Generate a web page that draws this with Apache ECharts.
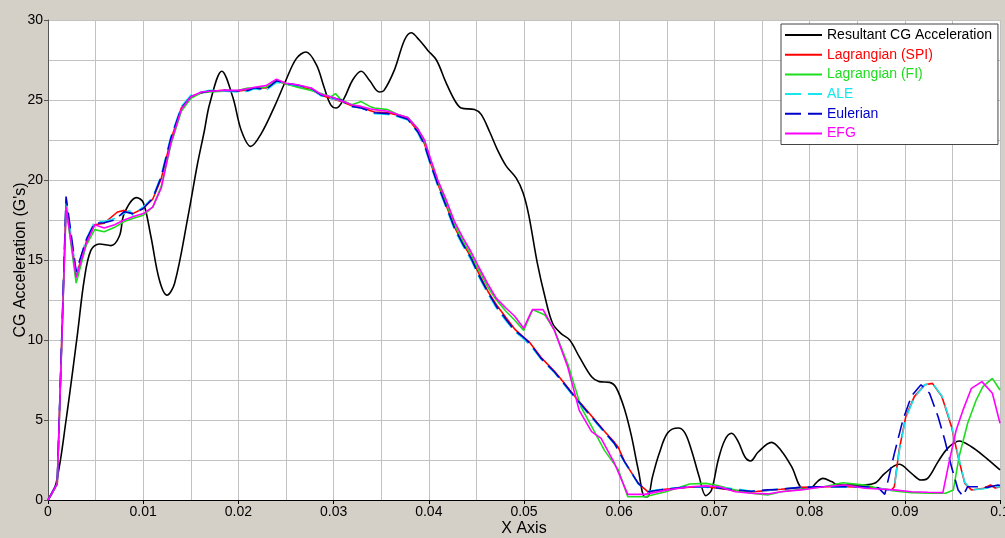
<!DOCTYPE html>
<html><head><meta charset="utf-8">
<script src="https://cdn.jsdelivr.net/npm/echarts@6/dist/echarts.min.js"></script>
<style>html,body{margin:0;padding:0;background:#d4d0c8}#c{width:1005px;height:538px}</style>
</head><body><div id="c"></div><script>
const seriesNames = ['Resultant CG Acceleration','Lagrangian (SPI)','Lagrangian (FI)','ALE','Eulerian','EFG'];
const seriesColors = ['#000000','#ff0000','#1edc1e','#16e6ee','#0000cc','#ff00ff'];

const resultantCG = [[0,0],[0.00086,1.06],[0.0019,5.0],[0.0031,10.4],[0.0038,13.75],[0.0045,15.6],[0.0054,16.0],[0.0066,15.9],[0.0075,16.5],[0.008,17.9],[0.0093,18.9],[0.01,18.6],[0.0108,16.5],[0.0117,13.75],[0.0125,12.8],[0.0133,13.55],[0.0147,17.7],[0.0157,21.0],[0.0164,23.0],[0.017,24.8],[0.01826,26.8],[0.0194,25.2],[0.0203,23.1],[0.0213,22.1],[0.0224,22.9],[0.0238,24.6],[0.025,26.25],[0.0261,27.6],[0.0271,28.0],[0.0282,27.2],[0.029,25.8],[0.0297,24.7],[0.0303,24.5],[0.0311,25.1],[0.032,26.25],[0.0329,26.8],[0.0338,26.2],[0.0348,25.5],[0.0353,25.6],[0.0364,26.9],[0.03745,28.75],[0.03815,29.2],[0.039,28.75],[0.0399,28.1],[0.0408,27.5],[0.0418,26.1],[0.0427,25.0],[0.0434,24.5],[0.0448,24.4],[0.0455,24.1],[0.0464,23.0],[0.0472,21.9],[0.0481,20.9],[0.0492,20.1],[0.0499,19.2],[0.0505,17.8],[0.0514,14.8],[0.0522,12.7],[0.053,11.05],[0.0539,10.4],[0.0548,10.0],[0.0558,8.96],[0.0571,7.7],[0.0579,7.4],[0.059,7.35],[0.0597,7.0],[0.0606,5.6],[0.0613,3.96],[0.062,1.9],[0.0627,0.2],[0.063,0.2],[0.0635,1.46],[0.0642,2.9],[0.0651,4.2],[0.0662,4.5],[0.0669,4.2],[0.0676,3.1],[0.0684,1.46],[0.0691,0.27],[0.0697,0.63],[0.0704,2.5],[0.0711,3.75],[0.0718,4.17],[0.0725,3.65],[0.0732,2.7],[0.0738,2.44],[0.0746,3.0],[0.076,3.6],[0.077,3.1],[0.0781,2.1],[0.0793,0.73],[0.08,0.73],[0.0809,1.2],[0.0814,1.35],[0.0823,1.15],[0.083,0.94],[0.084,0.94],[0.0854,0.94],[0.0868,1.04],[0.0879,1.67],[0.0894,2.23],[0.0907,1.67],[0.0917,1.25],[0.0924,1.35],[0.0935,2.4],[0.0945,3.23],[0.0957,3.69],[0.097,3.33],[0.0984,2.7],[0.1,1.88]];

const lagrangianSPI = [[0,0],[0.00097,1.04],[0.0019,18.6],[0.00296,14.0],[0.004,16.1],[0.0049,17.2],[0.0059,17.3],[0.0073,18.0],[0.008,18.1],[0.0089,17.9],[0.00996,18.2],[0.011,18.8],[0.0119,20.1],[0.0129,22.5],[0.014,24.5],[0.015,25.2],[0.0161,25.45],[0.017,25.55],[0.01854,25.6],[0.01994,25.55],[0.021,25.65],[0.0217,25.75],[0.0229,25.75],[0.024,26.2],[0.025,26.0],[0.0262,25.85],[0.02765,25.65],[0.0287,25.3],[0.02975,25.1],[0.0308,24.9],[0.03185,24.65],[0.0329,24.55],[0.0338,24.35],[0.0343,24.25],[0.0357,24.2],[0.03675,24.05],[0.0378,23.85],[0.03885,23.05],[0.03955,22.25],[0.04025,20.95],[0.04095,19.75],[0.0418,18.45],[0.0427,17.05],[0.04357,16.05],[0.04445,15.15],[0.0453,14.1],[0.0462,13.05],[0.0471,12.2],[0.0481,11.4],[0.049,10.7],[0.0499,10.2],[0.0506,9.85],[0.0518,8.9],[0.0532,8.05],[0.0539,7.55],[0.0553,6.5],[0.0571,5.25],[0.05845,4.3],[0.0595,3.6],[0.0599,3.3],[0.06056,2.4],[0.062,1.04],[0.063,0.52],[0.0648,0.67],[0.0674,0.8],[0.0691,0.83],[0.0722,0.6],[0.0739,0.5],[0.0756,0.6],[0.077,0.67],[0.0791,0.79],[0.081,0.83],[0.0837,0.83],[0.0858,0.8],[0.0872,0.73],[0.0886,0.63],[0.0889,0.83],[0.0894,3.1],[0.0901,5.2],[0.091,6.46],[0.0921,7.2],[0.0929,7.29],[0.0939,6.46],[0.0949,4.6],[0.0956,2.7],[0.0963,1.04],[0.097,0.63],[0.0983,0.73],[0.099,0.94],[0.0995,0.75],[0.1,0.83]];

const lagrangianFI = [[0,0],[0.00097,1.0],[0.0019,18.3],[0.00296,13.56],[0.004,15.9],[0.0049,16.9],[0.0059,16.77],[0.007,17.04],[0.008,17.4],[0.0089,17.6],[0.01,17.8],[0.011,18.3],[0.0119,19.6],[0.0129,22.2],[0.014,24.3],[0.015,25.1],[0.0161,25.45],[0.017,25.5],[0.0185,25.55],[0.02,25.6],[0.021,25.75],[0.0217,25.7],[0.0229,25.8],[0.024,26.2],[0.025,26.0],[0.0262,25.8],[0.02765,25.6],[0.0287,25.4],[0.0297,25.2],[0.0302,25.4],[0.0308,25.0],[0.0319,24.7],[0.0329,24.9],[0.0338,24.6],[0.0343,24.5],[0.0357,24.4],[0.03675,24.1],[0.0378,23.9],[0.03885,23.2],[0.03955,22.4],[0.04025,21.1],[0.04095,19.9],[0.0418,18.6],[0.0427,17.2],[0.04357,16.2],[0.04445,15.3],[0.0453,14.3],[0.0462,13.3],[0.0471,12.5],[0.0481,11.8],[0.049,11.25],[0.04997,10.6],[0.0509,11.9],[0.0522,11.56],[0.0532,10.6],[0.0546,8.5],[0.056,5.8],[0.0571,4.6],[0.05845,3.1],[0.0599,1.9],[0.0609,0.2],[0.0627,0.2],[0.0648,0.5],[0.0674,1.0],[0.0691,1.04],[0.0701,0.94],[0.0722,0.63],[0.0739,0.42],[0.0756,0.31],[0.077,0.52],[0.0791,0.67],[0.0815,0.83],[0.0835,1.08],[0.0858,0.94],[0.0868,0.79],[0.0889,0.56],[0.0907,0.46],[0.0928,0.42],[0.0943,0.42],[0.0951,0.63],[0.0957,2.7],[0.0966,4.8],[0.0975,6.25],[0.0982,7.08],[0.0992,7.6],[0.1,6.875]];

const ale = [[0,0],[0.00097,1.04],[0.0019,18.8],[0.00296,14.2],[0.004,16.3],[0.0049,17.4],[0.0059,17.4],[0.007,17.6],[0.008,17.9],[0.00856,18.1],[0.0089,17.8],[0.00996,18.3],[0.011,18.9],[0.0119,20.3],[0.0129,22.7],[0.014,24.6],[0.015,25.3],[0.0161,25.5],[0.017,25.6],[0.01854,25.55],[0.01994,25.5],[0.021,25.55],[0.0217,25.7],[0.0229,25.6],[0.024,26.1],[0.025,26.0],[0.0262,25.9],[0.02765,25.7],[0.0287,25.25],[0.02975,25.1],[0.0308,24.95],[0.03185,24.6],[0.0329,24.5],[0.0338,24.3],[0.0343,24.15],[0.0357,24.1],[0.03675,23.95],[0.0378,23.75],[0.03885,22.95],[0.03955,22.1],[0.04025,20.8],[0.04095,19.6],[0.0418,18.3],[0.0427,16.9],[0.04357,15.9],[0.04445,15.0],[0.0453,13.9],[0.0462,12.9],[0.0471,12.0],[0.0481,11.2],[0.049,10.55],[0.0499,10.1],[0.0506,9.7],[0.0518,8.8],[0.0532,7.95],[0.0539,7.45],[0.0553,6.4],[0.0571,5.15],[0.05845,4.2],[0.0595,3.5],[0.06056,2.35],[0.062,1.0],[0.063,0.55],[0.0648,0.7],[0.0674,0.83],[0.0691,0.8],[0.0722,0.7],[0.0739,0.55],[0.0756,0.6],[0.077,0.7],[0.0791,0.8],[0.081,0.83],[0.0837,0.8],[0.0858,0.8],[0.0872,0.73],[0.0886,0.6],[0.0889,0.8],[0.0894,3.0],[0.0901,5.1],[0.091,6.4],[0.0921,7.2],[0.0929,7.3],[0.0939,6.5],[0.0949,4.7],[0.0956,2.8],[0.0963,1.1],[0.097,0.63],[0.0983,0.7],[0.099,0.8],[0.1,0.83]];

const eulerian = [[0,0],[0.00097,1.04],[0.0019,18.96],[0.00296,14.27],[0.004,16.25],[0.0049,17.3],[0.0059,17.33],[0.007,17.5],[0.008,18.02],[0.0089,17.9],[0.00996,18.2],[0.011,18.85],[0.0119,20.2],[0.0129,22.6],[0.014,24.5],[0.015,25.2],[0.0161,25.46],[0.017,25.56],[0.01854,25.6],[0.01994,25.56],[0.021,25.6],[0.0217,25.77],[0.0229,25.65],[0.024,26.2],[0.025,26.04],[0.0262,25.94],[0.02765,25.73],[0.0287,25.3],[0.02975,25.17],[0.0308,25.0],[0.03185,24.6],[0.0329,24.5],[0.0338,24.3],[0.0343,24.2],[0.0357,24.15],[0.03675,24.0],[0.0378,23.8],[0.03885,23.0],[0.03955,22.2],[0.04025,20.9],[0.04095,19.7],[0.0418,18.4],[0.0427,17.0],[0.04357,16.0],[0.04445,15.1],[0.0453,14.0],[0.0462,13.0],[0.0471,12.1],[0.0481,11.3],[0.049,10.6],[0.0499,10.2],[0.0506,9.8],[0.0518,8.85],[0.0532,8.0],[0.0539,7.5],[0.0553,6.46],[0.0571,5.2],[0.05845,4.27],[0.0595,3.54],[0.06056,2.4],[0.062,1.04],[0.063,0.52],[0.0648,0.67],[0.0674,0.83],[0.0691,0.83],[0.0722,0.63],[0.0739,0.55],[0.0756,0.63],[0.077,0.67],[0.0791,0.79],[0.081,0.83],[0.0837,0.83],[0.0858,0.83],[0.0872,0.77],[0.0879,0.35],[0.0889,2.9],[0.0898,5.0],[0.0907,6.5],[0.0917,7.2],[0.0926,6.67],[0.0935,5.2],[0.0942,3.75],[0.0949,2.08],[0.0956,0.63],[0.0961,0.25],[0.0966,0.83],[0.0977,0.83],[0.0987,0.79],[0.0998,0.94],[0.1,0.9]];

const efg = [[0,0],[0.00097,1.0],[0.0019,18.3],[0.00296,13.9],[0.004,16.0],[0.0049,17.2],[0.0059,17.0],[0.007,17.2],[0.008,17.5],[0.0089,17.7],[0.01,17.9],[0.011,18.3],[0.0119,19.5],[0.0129,22.3],[0.014,24.4],[0.015,25.2],[0.0161,25.5],[0.017,25.55],[0.0185,25.6],[0.02,25.6],[0.021,25.7],[0.0217,25.8],[0.0229,25.9],[0.024,26.3],[0.025,26.05],[0.0262,25.95],[0.02765,25.75],[0.0287,25.35],[0.0297,25.2],[0.0308,24.95],[0.0319,24.7],[0.0329,24.6],[0.0338,24.45],[0.0343,24.4],[0.0357,24.3],[0.03675,24.1],[0.0378,23.9],[0.03885,23.2],[0.03955,22.5],[0.04025,21.2],[0.04095,20.0],[0.0418,18.8],[0.0427,17.4],[0.04357,16.4],[0.04445,15.5],[0.0453,14.5],[0.0462,13.5],[0.0471,12.6],[0.0481,12.0],[0.049,11.5],[0.04997,10.73],[0.0506,11.56],[0.0509,11.9],[0.052,11.9],[0.0532,10.6],[0.0546,8.3],[0.0558,5.6],[0.0571,4.27],[0.0581,3.85],[0.0595,2.3],[0.0609,0.35],[0.0627,0.35],[0.0648,0.6],[0.0674,0.83],[0.0691,0.88],[0.0705,0.83],[0.0722,0.52],[0.0739,0.42],[0.0756,0.38],[0.077,0.52],[0.0791,0.63],[0.0815,0.83],[0.0837,0.94],[0.0858,0.73],[0.0889,0.63],[0.0907,0.52],[0.0924,0.48],[0.094,0.46],[0.0947,2.5],[0.0954,4.375],[0.0961,5.6],[0.097,6.98],[0.0981,7.4],[0.0992,6.67],[0.1,4.8]];

const seriesData = [resultantCG, lagrangianSPI, lagrangianFI, ale, eulerian, efg];
const dashed = [false,false,false,true,true,false];

const font = '"Liberation Sans", Arial, sans-serif';
const gridColor = '#c2c2c2';
const chart = echarts.init(document.getElementById('c'));
chart.setOption({
  backgroundColor: '#d4d0c8',
  animation: false,
  grid: {left: 48, top: 20, width: 952, height: 480, show: true, backgroundColor: '#ffffff', borderWidth: 0,
    containLabel: false, outerBoundsMode: 'none'},
  xAxis: {
    type: 'value', min: 0, max: 0.1, interval: 0.01,
    name: 'X Axis', nameLocation: 'middle', nameGap: 21, nameMoveOverlap: false,
    nameTextStyle: {fontSize: 16, color: '#000', fontFamily: font},
    axisLine: {show: true, onZero: false, lineStyle: {color: '#000', width: 1}},
    axisTick: {show: true, length: 4, lineStyle: {color: '#000'}},
    axisLabel: {color: '#000', fontSize: 14, fontFamily: font, margin: 5,
      formatter: v => v === 0 ? '0' : String(+v.toFixed(3))},
    splitLine: {show: true, lineStyle: {color: gridColor, width: 1}},
    minorTick: {show: false, splitNumber: 2},
    minorSplitLine: {show: true, lineStyle: {color: gridColor, width: 1}}
  },
  yAxis: {
    type: 'value', min: 0, max: 30, interval: 5,
    name: "CG Acceleration (G's)", nameLocation: 'middle', nameGap: 19, nameRotate: 90, nameMoveOverlap: false,
    nameTextStyle: {fontSize: 16, color: '#000', fontFamily: font},
    axisLine: {show: true, onZero: false, lineStyle: {color: '#555', width: 1}},
    axisTick: {show: true, length: 4, lineStyle: {color: '#555'}},
    axisLabel: {color: '#000', fontSize: 14, fontFamily: font, margin: 5},
    splitLine: {show: true, lineStyle: {color: gridColor, width: 1}},
    minorTick: {show: false, splitNumber: 2},
    minorSplitLine: {show: true, lineStyle: {color: gridColor, width: 1}}
  },
  legend: {
    orient: 'vertical', left: 781, top: 24,
    itemWidth: 37, itemHeight: 14, itemGap: 5.7,
    padding: [4, 6, 4, 3],
    backgroundColor: '#ffffff', borderColor: '#444', borderWidth: 1, borderRadius: 0,
    itemStyle: {color: 'rgba(0,0,0,0)', borderColor: 'rgba(0,0,0,0)', borderWidth: 0, opacity: 0},
    textStyle: {fontSize: 14, fontFamily: font},
    data: seriesNames.map((n, i) => ({name: n, textStyle: {color: seriesColors[i]}}))
  },
  series: seriesNames.map((n, i) => ({
    name: n, type: 'line', data: seriesData[i],
    symbol: 'none', showSymbol: false,
    smooth: i === 0 ? 0.35 : false,
    color: seriesColors[i],
    lineStyle: {color: seriesColors[i], width: 1.6, type: dashed[i] ? [16, 7] : 'solid'},
    clip: true
  }))
});
</script></body></html>
